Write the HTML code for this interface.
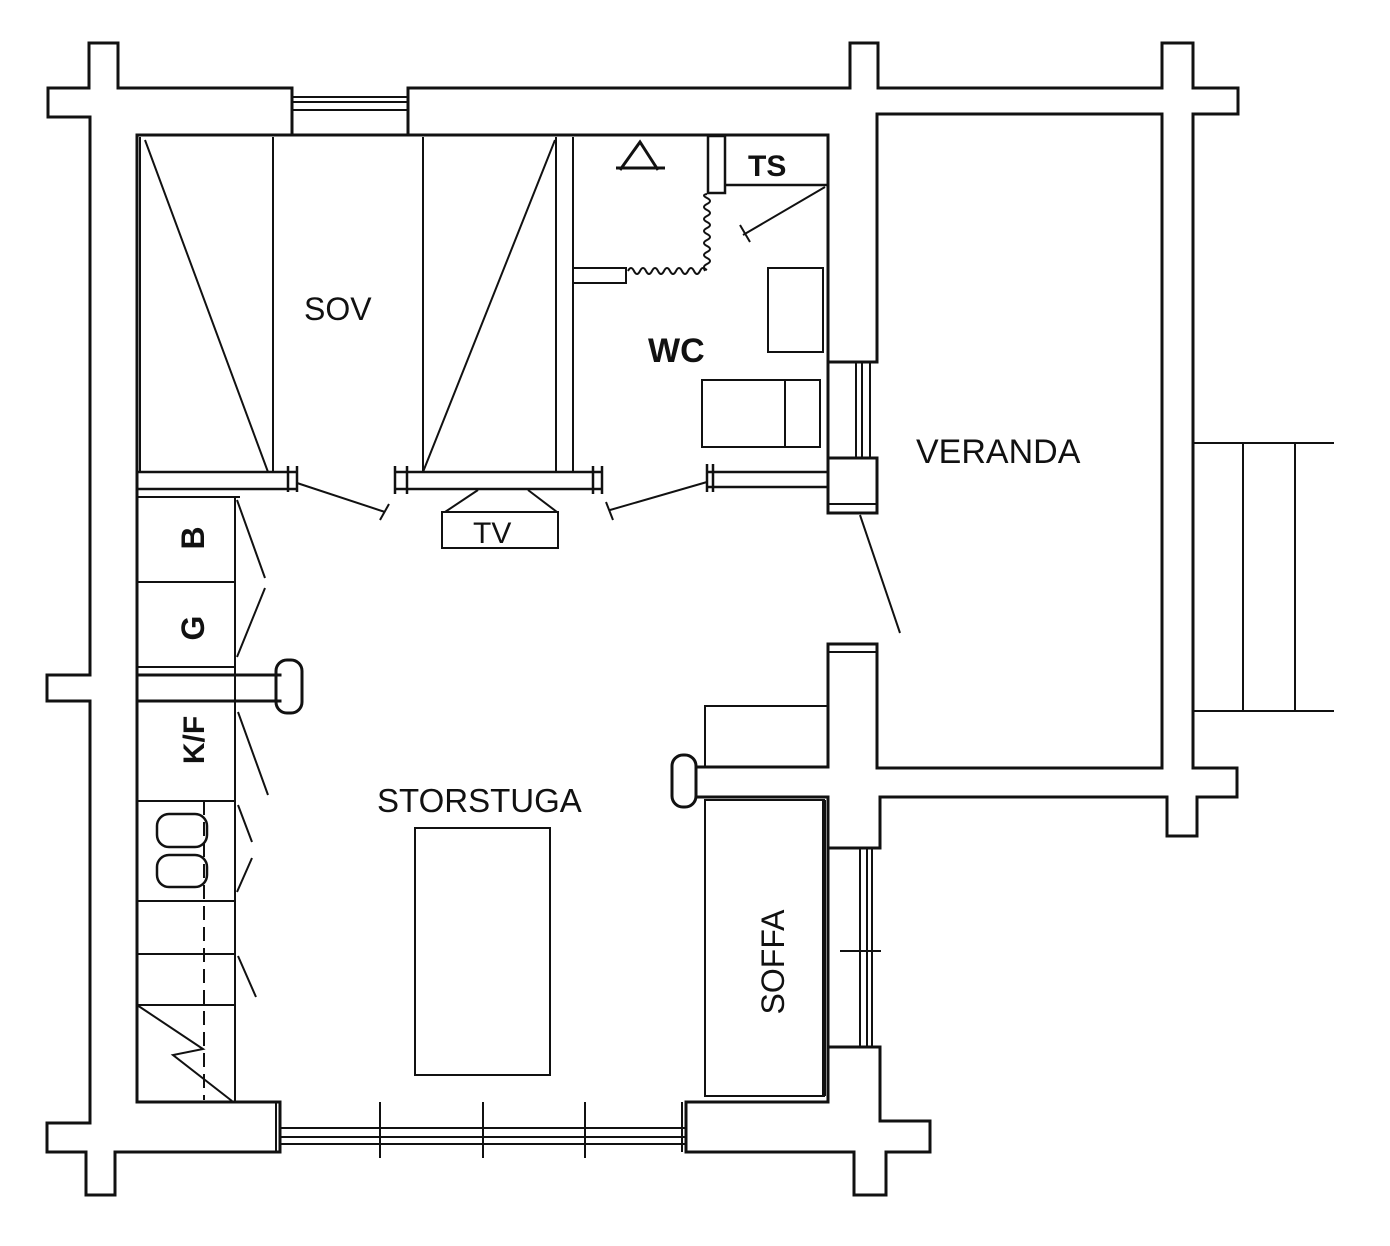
<!DOCTYPE html>
<html><head><meta charset="utf-8"><style>
html,body{margin:0;padding:0;background:#fff;}
svg{display:block;}
text{font-family:"Liberation Sans",sans-serif;fill:#111;}
</style></head><body>
<svg width="1390" height="1246" viewBox="0 0 1390 1246" xmlns="http://www.w3.org/2000/svg">
<g fill="none" stroke="#111" stroke-width="3" stroke-linejoin="miter" stroke-linecap="square">
<!-- outer left/top walls -->
<path d="M292,135 L292,88 L118,88 L118,43 L89,43 L89,88 L48,88 L48,117 L90,117 L90,675 L47,675 L47,701 L90,701 L90,1123 L47,1123 L47,1152 L86,1152 L86,1195 L115,1195 L115,1152 L280,1152 L280,1102"/>
<path d="M408,135 L408,88 L850,88 L850,43 L878,43 L878,88 L1162,88 L1162,43 L1193,43 L1193,88 L1238,88 L1238,114 L1193,114 L1193,768 L1237,768 L1237,797 L1197,797 L1197,836 L1167,836 L1167,797 L880,797 L880,848"/>
<path d="M880,1047 L880,1121 L930,1121 L930,1152 L886,1152 L886,1195 L854,1195 L854,1152 L686,1152 L686,1102"/>
<!-- inner lines -->
<path d="M137,135 L828,135"/>
<path d="M137,135 L137,1102 L280,1102"/>
<path d="M686,1102 L828,1102"/>
<!-- WC/veranda wall -->
<path d="M828,135 L828,513 L877,513 L877,458"/>
<path d="M877,114 L877,362 L828,362"/>
<path d="M828,458 L877,458"/>
<path d="M1162,114 L877,114"/>
<path d="M1162,114 L1162,768 L877,768"/>
<!-- lower vertical wall + horizontal arm -->
<path d="M828,644 L877,644 L877,767"/>
<path d="M828,644 L828,767 L696,767"/>
<path d="M696,797 L828,797 L828,1102"/>
<path d="M828,848 L880,848"/>
<path d="M828,1047 L880,1047"/>
<rect x="672" y="755" width="24" height="52" rx="11"/>
<!-- left middle partition -->
<path d="M137,675 L280,675"/>
<path d="M137,701 L280,701"/>
<rect x="276" y="660" width="26" height="53" rx="11"/>
</g>
<g fill="none" stroke="#111" stroke-width="2">
<!-- top window -->
<path d="M292,97 L408,97 M292,102 L408,102 M292,110 L408,110"/>
<!-- bottom window -->
<path d="M280,1128 L686,1128 M280,1137 L686,1137 M280,1144 L686,1144"/>
<path d="M276,1102 L276,1152 M682,1102 L682,1152"/>
<path d="M380,1102 L380,1158 M483,1102 L483,1158 M585,1102 L585,1158"/>
<!-- WC window -->
<path d="M856,362 L856,458 M862,362 L862,458 M870,362 L870,458"/>
<path d="M828,504 L877,504"/>
<path d="M828,652 L877,652"/>
<path d="M860,515 L900,633"/>
<!-- soffa window -->
<path d="M860,848 L860,1047 M867,848 L867,1047 M872,848 L872,1047 M840,951 L881,951"/>
<!-- stairs -->
<path d="M1193,443 L1334,443 M1193,711 L1334,711 M1243,443 L1243,711 M1295,443 L1295,711"/>
<!-- SOV closets -->
<path d="M140,137 L140,472 M273,137 L273,472 M145,140 L268,472"/>
<path d="M423,137 L423,472 M423,472 L555,140 M556,137 L556,472"/>
<path d="M573,137 L573,472"/>
<!-- partitions above living -->
<path d="M137,472 L297,472 M137,489 L297,489 M288,466 L288,492 M297,466 L297,492" stroke-width="2.5"/>
<path d="M395,472 L602,472 M395,489 L602,489 M395,466 L395,494 M407,466 L407,494 M593,466 L593,494 M602,466 L602,494" stroke-width="2.5"/>
<path d="M707,472 L828,472 M707,487 L828,487 M707,464 L707,492 M713,464 L713,492" stroke-width="2.5"/>
<!-- doors -->
<path d="M297,483 L385,512 M380,520 L389,504"/>
<path d="M707,482 L610,510 M606,502 L613,520"/>
<path d="M825,187 L743,235 M740,225 L750,242"/>
<!-- TV -->
<path d="M478,490 L445,512 M528,490 L557,512"/>
<rect x="442" y="512" width="116" height="36"/>
<!-- WC interior -->
<path d="M573,268 L626,268 L626,283 L573,283"/>
<path d="M628,271 q3,-6 6,0 t6,0 t6,0 t6,0 t6,0 t6,0 t6,0 t6,0 t6,0 t6,0 t6,0 t6,0 t5,0"/>
<path d="M707,270 q-6,-3 0,-6 t0,-6 t0,-6 t0,-6 t0,-6 t0,-6 t0,-6 t0,-6 t0,-6 t0,-6 t0,-6 t0,-6 t0,-4"/>
<rect x="708" y="136" width="17" height="57" stroke-width="2.5"/>
<path d="M725,185 L828,185" stroke-width="2.5"/>
<path d="M620,170 L640,142 L658,170 M616,168 L665,168" stroke-width="3"/>
<rect x="768" y="268" width="55" height="84"/>
<rect x="702" y="380" width="118" height="67"/>
<path d="M785,380 L785,447"/>
<!-- kitchen -->
<path d="M137,497 L240,497 M235,497 L235,1102"/>
<path d="M137,582 L235,582 M137,667 L235,667"/>
<path d="M137,801 L235,801 M137,901 L235,901 M137,954 L235,954 M137,1005 L235,1005"/>
<path d="M204,801 L204,1100" stroke-dasharray="14,7"/>
<rect x="157" y="814" width="50" height="33" rx="12" stroke-width="2.5"/>
<rect x="157" y="855" width="50" height="32" rx="12" stroke-width="2.5"/>
<path d="M137,1005 L203,1049 L173,1055 L232,1101"/>
<path d="M237,500 L265,578 M265,588 L237,657"/>
<path d="M238,712 L268,795 M238,805 L252,842 M252,858 L237,892 M238,956 L256,997"/>
<!-- living -->
<rect x="415" y="828" width="135" height="247"/>
<path d="M705,767 L705,706 L828,706"/>
<rect x="705" y="800" width="119" height="296"/>
<path d="M824,800 L824,1096" stroke-width="4"/>
</g>
<text x="304" y="320" font-size="32">SOV</text>
<text x="648" y="362" font-size="34" font-weight="bold">WC</text>
<text x="748" y="176" font-size="30" font-weight="bold">TS</text>
<text x="473" y="543" font-size="30">TV</text>
<text x="916" y="463" font-size="34">VERANDA</text>
<text x="377" y="812" font-size="33">STORSTUGA</text>
<text transform="translate(784,962) rotate(-90)" text-anchor="middle" font-size="32">SOFFA</text>
<text transform="translate(204,538) rotate(-90)" text-anchor="middle" font-size="32" font-weight="bold">B</text>
<text transform="translate(204,628) rotate(-90)" text-anchor="middle" font-size="32" font-weight="bold">G</text>
<text transform="translate(204,740) rotate(-90)" text-anchor="middle" font-size="30" font-weight="bold">K/F</text>
</svg>
</body></html>
